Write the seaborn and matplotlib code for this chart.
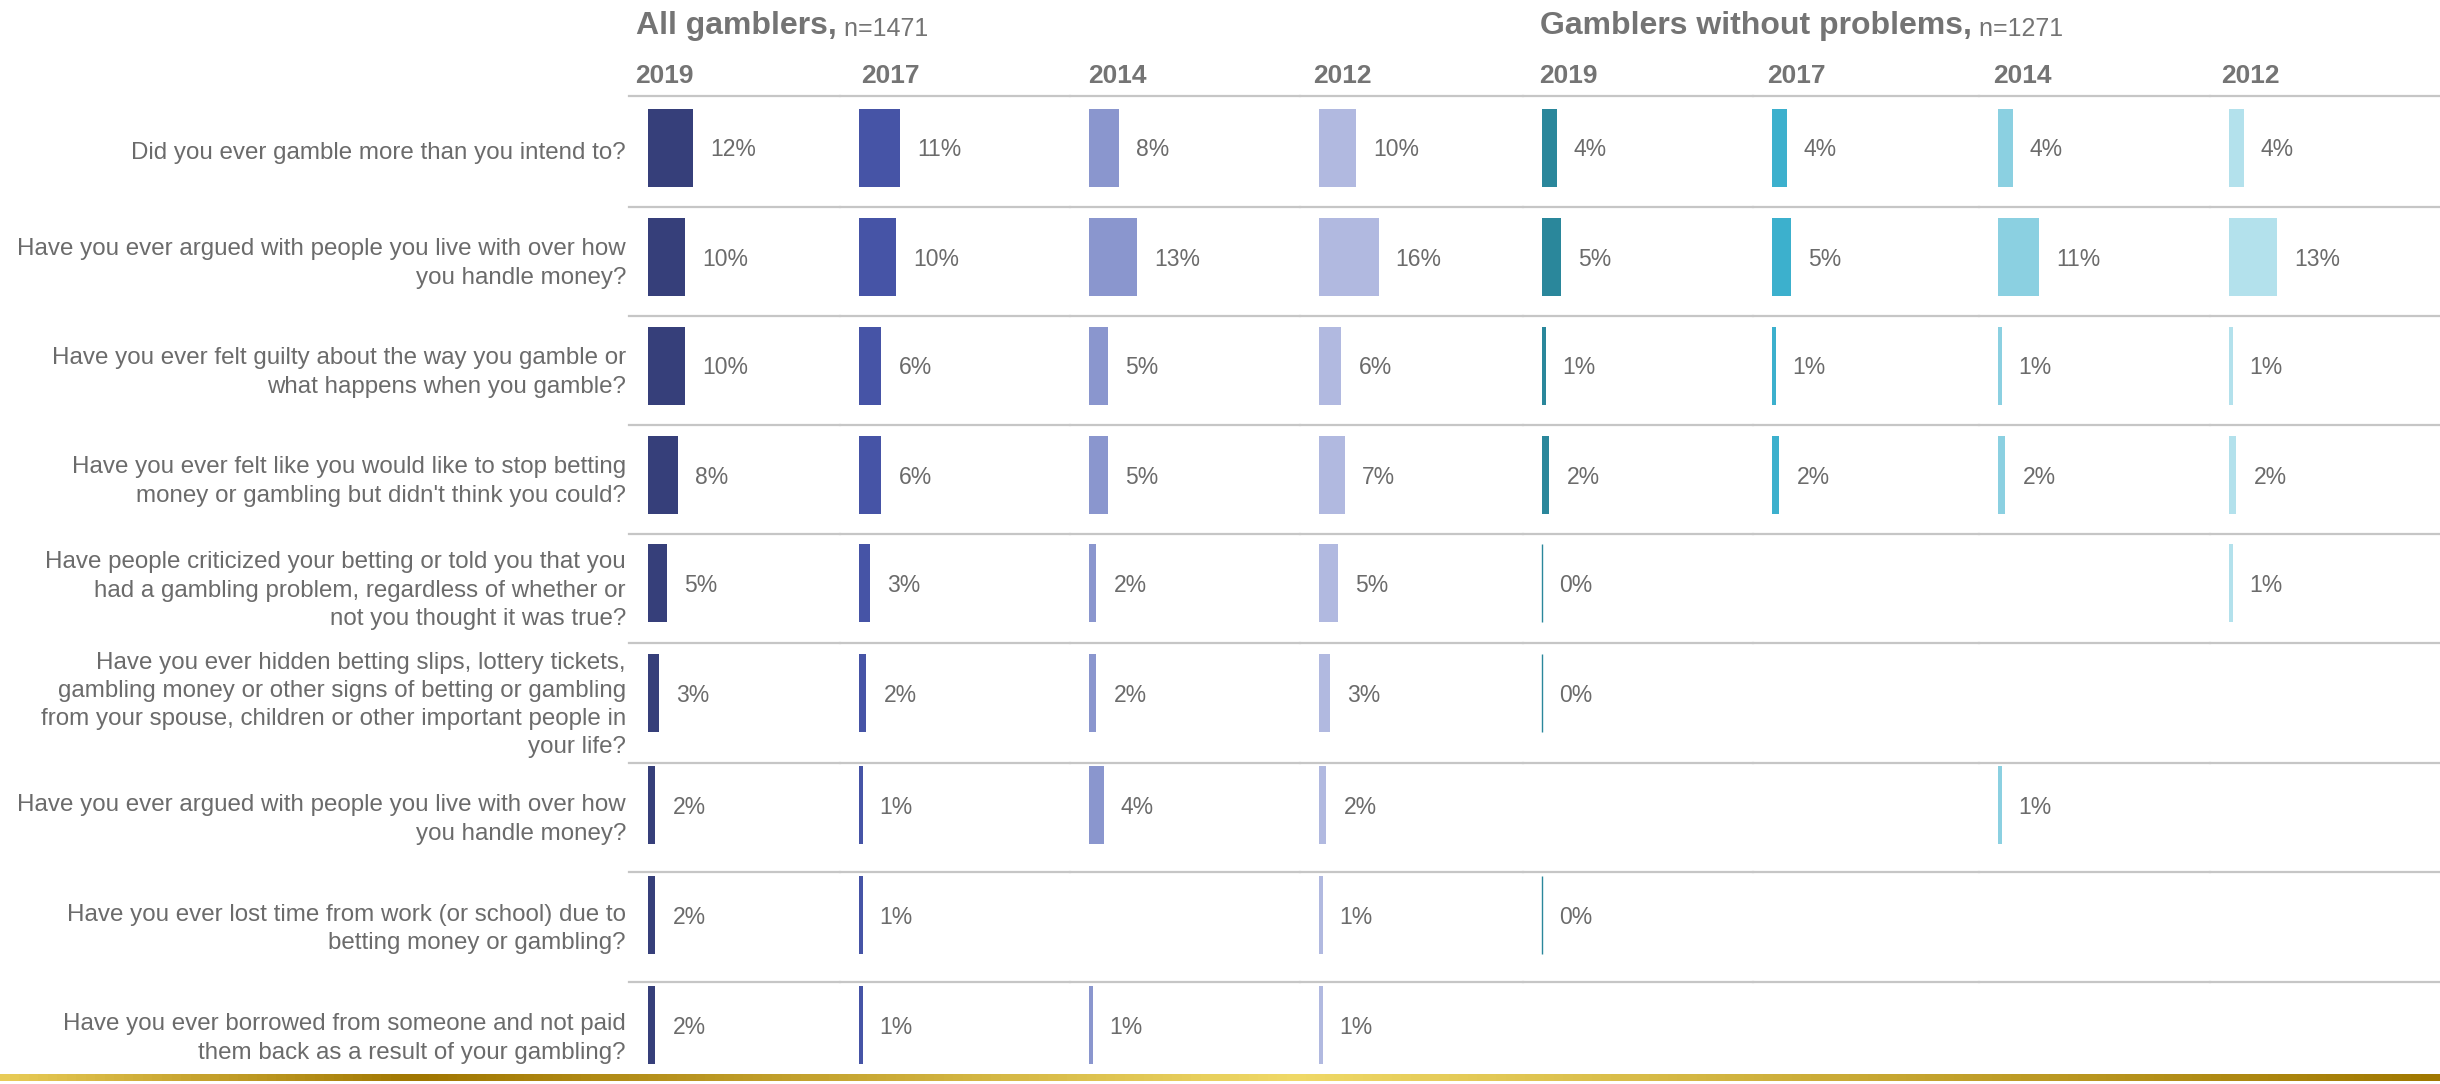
import numpy as np
import pandas as pd
import seaborn as sns
import matplotlib.pyplot as plt
from matplotlib.colors import LinearSegmentedColormap

# Datos
questions = [
    "Did you ever gamble more than you intend to?",
    "Have you ever argued with people you live with over how\nyou handle money?",
    "Have you ever felt guilty about the way you gamble or\nwhat happens when you gamble?",
    "Have you ever felt like you would like to stop betting\nmoney or gambling but didn't think you could?",
    "Have people criticized your betting or told you that you\nhad a gambling problem, regardless of whether or\nnot you thought it was true?",
    "Have you ever hidden betting slips, lottery tickets,\ngambling money or other signs of betting or gambling\nfrom your spouse, children or other important people in\nyour life?",
    "Have you ever argued with people you live with over how\nyou handle money?",
    "Have you ever lost time from work (or school) due to\nbetting money or gambling?",
    "Have you ever borrowed from someone and not paid\nthem back as a result of your gambling?",
]
years = ["2019", "2017", "2014", "2012"]
group_titles = ["All gamblers,", "Gamblers without problems,"]
group_n = ["n=1471", "n=1271"]

all_2019 = [12, 10, 10, 8, 5, 3, 2, 2, 2]
all_2017 = [11, 10, 6, 6, 3, 2, 1, 1, 1]
all_2014 = [8, 13, 5, 5, 2, 2, 4, None, 1]
all_2012 = [10, 16, 6, 7, 5, 3, 2, 1, 1]
nop_2019 = [4, 5, 1, 2, 0, 0, None, 0, None]
nop_2017 = [4, 5, 1, 2, None, None, None, None, None]
nop_2014 = [4, 11, 1, 2, None, None, 1, None, None]
nop_2012 = [4, 13, 1, 2, 1, None, None, None, None]

columns = [all_2019, all_2017, all_2014, all_2012, nop_2019, nop_2017, nop_2014, nop_2012]
colors = ["#363F7A", "#4654A6", "#8A96CE", "#B1B9E0",
          "#2A879B", "#3CB0CD", "#8BD0E1", "#B3E1EC"]

# Maquetacion (pixeles)
W, H = 2440, 1084
row_edges = [96, 207, 316, 425, 534, 643, 763, 872, 982, 1091]
bar_offsets = [13, 11, 11, 11, 10, 11, 3, 4, 4]
col_edges = [629, 840, 1070, 1300, 1523, 1753, 1979, 2210, 2440]
header_x = [635, 861, 1088, 1313, 1539, 1767, 1993, 2221]
bar_h = 78
bar_pad = 19
px_per_pct = 3.73

text_gray = "#6B6B6B"
head_gray = "#747474"
line_gray = "#C6C6C6"

sns.set_theme(style="white")
plt.rcParams['font.family'] = ['Liberation Sans', 'DejaVu Sans']


def fx(px):
    return px / W


def fy(py):
    return 1 - py / H


fig = plt.figure(figsize=(W / 100, H / 100), dpi=100)
row_h = np.diff(row_edges)
col_w = np.diff(col_edges)
gs = fig.add_gridspec(9, 8, left=fx(col_edges[0]), right=1, top=fy(row_edges[0]),
                      bottom=fy(row_edges[-1]), height_ratios=row_h,
                      width_ratios=col_w, hspace=0, wspace=0)

unit = bar_h / 0.8
for c, (vals, color) in enumerate(zip(columns, colors)):
    for r, v in enumerate(vals):
        ax = fig.add_subplot(gs[r, c])
        if v is not None:
            df = pd.DataFrame({"pct": [v], "q": [questions[r]]})
            sns.barplot(data=df, x="pct", y="q", orient="h", color=color,
                        saturation=1, width=0.8, errorbar=None, ax=ax,
                        linewidth=1.0 if v == 0 else 0, edgecolor=color)
            ax.annotate(f"{v}%", xy=(v, 0), xytext=(17, -2), textcoords="offset pixels",
                        ha="left", va="center", fontsize=16.5, color=text_gray)
        top = -0.4 - bar_offsets[r] / unit
        ax.set_ylim(top + row_h[r] / unit, top)
        ax.set_xlim(-bar_pad / px_per_pct, (col_w[c] - bar_pad) / px_per_pct)
        ax.set(xticks=[], yticks=[], xlabel="", ylabel="")
        ax.patch.set_visible(False)
        for s in ["left", "right", "bottom"]:
            ax.spines[s].set_visible(False)
        ax.spines["top"].set_color(line_gray)
        ax.spines["top"].set_linewidth(1.6)

        if c == 0:
            ax.annotate(questions[r], xy=(0, 0.5), xycoords="axes fraction",
                        xytext=(-3, -2), textcoords="offset pixels", ha="right",
                        va="center", multialignment="right", fontsize=17.4,
                        linespacing=1.37, color=text_gray)

# Cabeceras
for x, yr in zip(header_x, years * 2):
    fig.text(fx(x), fy(83), yr, fontsize=19, fontweight="bold", color=head_gray,
             va="baseline", ha="left")

for x, title, n in zip([636, 1540], group_titles, group_n):
    t = fig.text(fx(x), fy(34), title, fontsize=23, fontweight="bold",
                 color=head_gray, va="baseline", ha="left")
    fig.axes[0].annotate(" " + n, xy=(1, 0), xycoords=t, xytext=(0, 0),
                         textcoords="offset pixels", va="bottom", ha="left",
                         fontsize=18, color=head_gray, annotation_clip=False)

# Franja dorada inferior
gold = LinearSegmentedColormap.from_list(
    "gold", [(0, "#E8CB57"), (0.17, "#A07600"), (0.53, "#F0D967"), (1, "#A07800")])
gax = fig.add_axes([0, fy(1081), 1, 7 / H])
gax.imshow(np.linspace(0, 1, 512)[None, :], aspect="auto", cmap=gold)
gax.axis("off")

fig.savefig("out.png", dpi=100)
